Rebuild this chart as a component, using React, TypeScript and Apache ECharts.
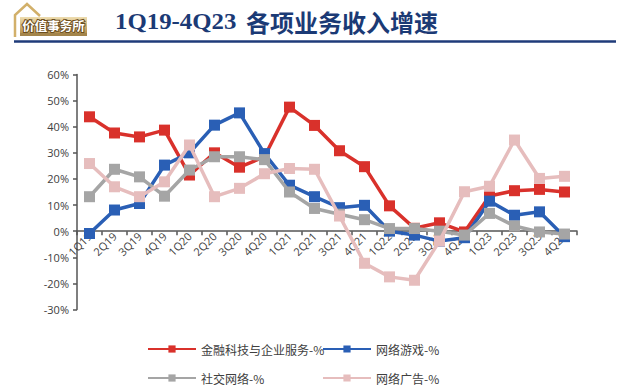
import React, { useEffect, useRef } from "react";
import * as echarts from "echarts";

const categories = [
  "1Q19", "2Q19", "3Q19", "4Q19", "1Q20", "2Q20", "3Q20", "4Q20", "1Q21", "2Q21",
  "3Q21", "4Q21", "1Q22", "2Q22", "3Q22", "4Q22", "1Q23", "2Q23", "3Q23", "4Q23",
];

const fintech = [43.8, 37.6, 36.1, 38.7, 21.5, 30, 24.5, 28.5, 47.5, 40.5, 30.8, 24.7, 9.7, 1.1, 3.2, -0.3, 13.5, 15.5, 16, 15];
const games = [-0.9, 8.1, 10.6, 25.3, 30, 40.6, 45.3, 29.7, 17.6, 13.2, 9, 9.9, 0, -1.5, -3.8, -2.5, 11.5, 6.1, 7.4, -2.1];
const social = [13.2, 23.7, 20.8, 13.4, 23.4, 28.5, 28.5, 27.4, 15, 8.7, 6.5, 4.4, 1, 1, 0, -1.5, 6.8, 2, -0.3, -1.1];
const ads = [25.9, 17, 13.2, 18.9, 33, 13.2, 16.4, 22, 24, 23.7, 5.8, -12.3, -17.5, -18.8, -3.8, 15.1, 17.2, 34.9, 20.2, 21];

const seriesNames = ["金融科技与企业服务-%", "网络游戏-%", "社交网络-%", "网络广告-%"];
const seriesColors = ["#D9312B", "#2A5FB5", "#A5A5A5", "#E6BDBD"];
const seriesData = [fintech, games, social, ads];

const yTicks = { min: -30, max: 60, interval: 10 };

export default function App() {
  const ref = useRef<HTMLDivElement>(null);
  useEffect(() => {
    if (!ref.current) return;
    const chart = echarts.init(ref.current, null, { renderer: "svg" });
    const legendPos = [
      { left: 147, top: 343 },
      { left: 322, top: 343 },
      { left: 147, top: 372 },
      { left: 322, top: 372 },
    ];
    const gridTop = 74.5;
    const gridBottom = 82.5;
    const plotH = 392 - gridTop - gridBottom;
    const zeroOffset = -(plotH * (0 - yTicks.min)) / (yTicks.max - yTicks.min);
    chart.setOption({
      animation: false,
      backgroundColor: "#ffffff",
      grid: { left: 77, right: 63, top: gridTop, bottom: gridBottom, containLabel: false },
      legend: seriesNames.map((n, i) => ({
        data: [n],
        left: legendPos[i].left,
        top: legendPos[i].top,
        padding: 0,
        itemWidth: 48,
        itemHeight: 9,
        itemGap: 4,
        textStyle: { fontSize: 12, color: "#404040", fontFamily: "'Noto Sans CJK SC'" },
      })),
      xAxis: {
        type: "category",
        data: categories,
        boundaryGap: true,
        position: "bottom",
        offset: zeroOffset,
        axisLine: { onZero: false, lineStyle: { color: "#555555", width: 1.5 } },
        axisTick: { show: true, length: 4, lineStyle: { color: "#555555", width: 1.5 } },
        axisLabel: {
          rotate: 45,
          margin: 3,
          fontSize: 11,
          color: "#404040",
          fontFamily: "'Open Sans', sans-serif",
          interval: 0,
        },
        splitLine: { show: false },
      },
      yAxis: {
        type: "value",
        min: yTicks.min,
        max: yTicks.max,
        interval: yTicks.interval,
        axisLine: { show: true, lineStyle: { color: "#555555", width: 1.5 } },
        axisTick: { show: true, length: 4, lineStyle: { color: "#555555", width: 1.5 } },
        axisLabel: {
          formatter: "{value}%",
          fontSize: 11,
          color: "#404040",
          margin: 8,
          fontFamily: "'Open Sans', sans-serif",
        },
        splitLine: { show: false },
      },
      series: seriesNames.map((n, i) => ({
        name: n,
        type: "line",
        data: seriesData[i],
        symbol: "rect",
        symbolSize: 11,
        showAllSymbol: true,
        lineStyle: { color: seriesColors[i], width: 3.5 },
        itemStyle: { color: seriesColors[i] },
        z: 2 + i,
      })),
      graphic: [
        {
          type: "polyline",
          shape: { points: [[15, 37], [15, 15], [27, 4], [40, 16]] },
          style: { stroke: "#D2B06A", lineWidth: 2.5, fill: "none" },
        },
        {
          type: "rect",
          shape: { x: 20, y: 17, width: 67, height: 16 },
          style: {
            fill: new echarts.graphic.LinearGradient(0, 0, 0, 1, [
              { offset: 0, color: "#EEDDB0" },
              { offset: 1, color: "#B8924F" },
            ]),
          },
        },
        {
          type: "text",
          x: 53.5,
          y: 25,
          style: {
            text: "价值事务所",
            fontSize: 12.5,
            fontWeight: "bold",
            fontFamily: "'Noto Sans CJK SC'",
            fill: "#ffffff",
            stroke: "#6B4E1E",
            lineWidth: 2,
            align: "center",
            verticalAlign: "middle",
          },
        },
        {
          type: "rect",
          shape: { x: 20, y: 33, width: 67, height: 3 },
          style: { fill: "#A3844A" },
        },
        {
          type: "text",
          x: 115,
          y: 21,
          scaleX: 1.08,
          style: {
            text: "1Q19-4Q23",
            fontSize: 23,
            fontWeight: "bold",
            fontFamily: "'Liberation Serif', serif",
            fill: "#1B3A75",
            verticalAlign: "middle",
          },
        },
        {
          type: "text",
          x: 246,
          y: 21,
          style: {
            text: "各项业务收入增速",
            fontSize: 24,
            fontWeight: "bold",
            fontFamily: "'Noto Sans CJK SC'",
            fill: "#1B3A75",
            verticalAlign: "middle",
          },
        },
        {
          type: "line",
          shape: { x1: 14, y1: 41.5, x2: 616, y2: 41.5 },
          style: { stroke: "#1F3B7A", lineWidth: 2.5 },
        },
      ],
    });
    return () => chart.dispose();
  }, []);
  return <div ref={ref} style={{ width: 640, height: 392, position: "absolute", left: 0, top: 0 }} />;
}
